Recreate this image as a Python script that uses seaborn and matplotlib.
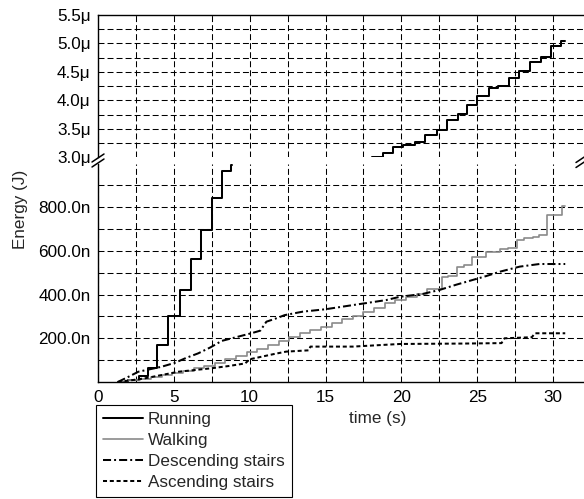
import numpy as np
import pandas as pd
import matplotlib
matplotlib.use("Agg")
import matplotlib.pyplot as plt
from matplotlib.lines import Line2D
from matplotlib.ticker import FixedLocator, FuncFormatter
import seaborn as sns

# ---------------- data (time in s, energy in nJ) ----------------
running_low_t = [1.3, 2.0, 2.7, 3.3, 3.9, 4.64, 5.4, 6.13, 6.79, 7.49, 8.2, 8.78, 8.85]
running_low_e = [0, 10, 28, 62, 169, 302, 421, 561, 696, 841, 967, 993, 993]

running_high_t = [18.04, 18.77, 19.47, 20.13, 20.9, 21.56, 22.33, 22.99, 23.71, 24.35,
                  25.0, 25.77, 26.4, 27.09, 27.75, 28.48, 29.18, 29.84, 30.5, 30.78]
running_high_e = [3000, 3080, 3180, 3220, 3270, 3400, 3480, 3660, 3760, 3920,
                  4080, 4210, 4260, 4400, 4520, 4670, 4770, 4960, 5050, 5050]

walking_t = [1.3, 2.0, 2.8, 3.5, 4.2, 4.9, 5.6, 6.3, 7.0, 7.7, 8.4, 9.1, 9.8, 10.5, 11.2,
             11.9, 12.6, 13.3, 14.0, 14.7, 15.4, 16.1, 16.8, 17.5, 18.2, 18.9, 19.6, 20.3,
             21.0, 21.67, 22.66, 23.1, 23.64, 24.1, 24.63, 25.58, 26.5, 27.0, 27.6, 28.1,
             28.7, 29.1, 29.58, 30.57, 30.8]
walking_e = [0, 8, 16, 24, 32, 40, 52, 63, 75, 88, 103, 118, 138, 152, 168,
             186, 206, 224, 238, 254, 270, 288, 304, 322, 340, 360, 375, 390,
             404, 424, 479, 485, 525, 535, 574, 596, 607, 615, 650, 658,
             665, 672, 764, 805, 805]

desc_t = [1.3, 1.9, 2.66, 3.4, 4.2, 5.08, 5.8, 6.6, 7.4, 8.15, 9.1, 10.1, 10.7, 11.1, 11.7,
          12.3, 13.5, 15.0, 16.8, 19.0, 19.9, 21.4, 22.5, 23.6, 24.7, 25.6, 26.5, 27.8, 29.1, 30.8]
desc_e = [0, 20, 47, 58, 70, 88, 110, 131, 158, 188, 205, 223, 235, 276, 290,
          306, 322, 333, 352, 375, 390, 403, 421, 445, 467, 485, 505, 528, 540, 540]

asc_t = [1.3, 2.2, 3.1, 4.2, 5.3, 6.4, 7.5, 8.6, 9.7, 10.0, 10.8, 11.6, 12.4, 13.9, 14.0,
         16.8, 19.9, 22.0, 24.2, 26.6, 26.8, 28.6, 28.8, 30.8]
asc_e = [0, 8, 17, 32, 47, 55, 63, 73, 85, 104, 116, 128, 139, 145, 162,
         162, 174, 175, 176, 178, 200, 205, 223, 223]

labels = ["Running", "Walking", "Descending stairs", "Ascending stairs"]
lower_ticks = [200, 400, 600, 800]
upper_ticks = [3000, 3500, 4000, 4500, 5000, 5500]
x_ticks = [0, 5, 10, 15, 20, 25, 30]

# ---------------- style ----------------
sns.set_style("white")
plt.rcParams["font.family"] = ["Liberation Sans", "DejaVu Sans"]
plt.rcParams["lines.scale_dashes"] = False
FS = 12.3

W, H = 584, 499
fig = plt.figure(figsize=(W / 100, H / 100), dpi=100)


def fx(px):
    return px / W


def fy(py):
    return 1 - py / H


left_px, right_px = 98, 586
ax_hi = fig.add_axes([fx(left_px), fy(157.3), fx(right_px - left_px), (157.3 - 15) / H])
ax_lo = fig.add_axes([fx(left_px), fy(382), fx(right_px - left_px), (382 - 163.5) / H])

st_run = dict(color="black", linewidth=1.45, linestyle="-")
st_walk = dict(color="#8a8a8a", linewidth=1.2, linestyle="-")
st_desc = dict(color="black", linewidth=1.45, linestyle=(0, (5.8, 2.2, 1.4, 2.2)))
st_asc = dict(color="black", linewidth=1.45, linestyle=(0, (2.9, 2.0)))

series = [
    (running_low_t, running_low_e, st_run, "steps-post"),
    (running_high_t, running_high_e, st_run, "steps-post"),
    (walking_t, walking_e, st_walk, "steps-post"),
    (desc_t, desc_e, st_desc, "default"),
    (asc_t, asc_e, st_asc, "default"),
]

xmax = (right_px - left_px) / 15.17
grid_kw = dict(color="black", linewidth=0.75, linestyle=(0, (4.3, 2.2)))

for ax in (ax_hi, ax_lo):
    for t, e, st, ds in series:
        df = pd.DataFrame({"t": t, "e": e})
        sns.lineplot(data=df, x="t", y="e", ax=ax, legend=False, drawstyle=ds, **st)
    ax.set_xlim(0, xmax)
    ax.set_xlabel("")
    ax.set_ylabel("")
    ax.xaxis.set_major_locator(FixedLocator(x_ticks))
    ax.xaxis.set_minor_locator(FixedLocator([v + 2.5 for v in x_ticks]))
    ax.grid(which="both", axis="x", **grid_kw)
    ax.yaxis.remove_overlapping_locs = False
    ax.spines["right"].set_visible(False)
    for s in ("left", "top", "bottom"):
        ax.spines[s].set_linewidth(1.0)
        ax.spines[s].set_color("black")
    ax.set_axisbelow(True)

# lower axes
ax_lo.set_ylim(0, 1000)
ax_lo.yaxis.set_major_locator(FixedLocator(lower_ticks))
ax_lo.yaxis.set_minor_locator(FixedLocator(list(range(100, 1000, 100))))
ax_lo.yaxis.set_major_formatter(FuncFormatter(lambda v, p: f"{v:.1f}n"))
ax_lo.grid(which="minor", axis="y", **grid_kw)
ax_lo.spines["top"].set_visible(False)
ax_lo.tick_params(axis="both", which="both", direction="in", length=3.5, width=0.8,
                  colors="black", labelsize=FS)
ax_lo.tick_params(axis="x", pad=5.5)
ax_lo.tick_params(axis="y", pad=5.3)
ax_lo.xaxis.set_major_formatter(FuncFormatter(lambda v, p: f"{v:g}"))

# upper axes
ax_hi.set_ylim(3000, 5500)
ax_hi.yaxis.set_major_locator(FixedLocator(upper_ticks))
ax_hi.yaxis.set_minor_locator(FixedLocator(list(range(3250, 5500, 250))))
ax_hi.yaxis.set_major_formatter(FuncFormatter(lambda v, p: f"{v / 1000:.1f}\u03bc"))
ax_hi.grid(which="minor", axis="y", **grid_kw)
ax_hi.spines["bottom"].set_visible(False)
ax_hi.tick_params(axis="y", which="both", direction="in", length=3.5, width=0.8,
                  colors="black", labelsize=FS, pad=5.3)
ax_hi.tick_params(axis="x", which="both", length=0, labelbottom=False)

# axis titles
fig.text(fx(378), fy(418), "time (s)", ha="center", va="center", fontsize=FS)
fig.text(fx(21), fy(209), "Energy (J)", ha="center", va="center", rotation=90, fontsize=FS)

# axis break marks
def brk(x0, y0):
    for dy in (-2.5, 2.5):
        fig.add_artist(Line2D([fx(x0 - 6), fx(x0 + 6)], [fy(y0 + 4 + dy), fy(y0 - 4 + dy)],
                              color="black", linewidth=1.1, transform=fig.transFigure))

brk(98, 160.5)
brk(582, 161)

# legend
handles = [Line2D([], [], **st) for st in (st_run, st_walk, st_desc, st_asc)]
leg = fig.legend(handles, labels, loc="upper left", bbox_to_anchor=(fx(96), fy(405)),
                 frameon=True, fancybox=False, edgecolor="black", framealpha=1,
                 borderpad=0.42, handlelength=2.35, handletextpad=0.25,
                 labelspacing=0.35, borderaxespad=0, fontsize=FS)
leg.get_frame().set_linewidth(0.8)

fig.savefig("out.png", dpi=100)
